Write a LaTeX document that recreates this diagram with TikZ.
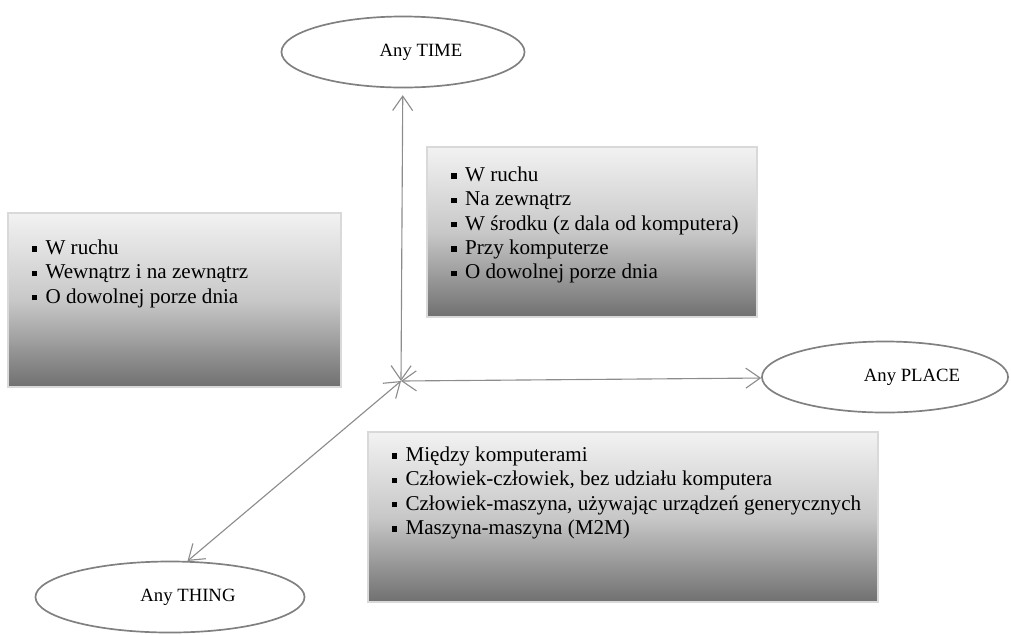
\documentclass[tikz,border=0pt]{standalone}
\usepackage{fontspec}
\setmainfont{Liberation Serif}
\usetikzlibrary{positioning,arrows.meta,shapes.geometric}
\definecolor{EllGray}{RGB}{128,128,128}
\definecolor{LineGray}{RGB}{140,140,140}
\definecolor{BoxEdge}{RGB}{217,217,217}
\definecolor{ShadeTop}{RGB}{242,242,242}
\definecolor{ShadeMid}{RGB}{200,200,200}
\definecolor{ShadeBot}{RGB}{112,112,112}
\newcommand{\sqbul}{\raisebox{0.13em}{\rule{0.25em}{0.25em}}\hspace{0.4em}}

\begin{document}
\begin{tikzpicture}[
    x=0.025cm, y=-0.025cm,
    node distance=0.25cm,
    anyell/.style={ellipse, draw=EllGray, line width=1.2pt, minimum width=#1,
        minimum height=1.775cm, font=\fontsize{13.3}{16}\selectfont, inner sep=2pt},
    infobox/.style={rectangle, draw=BoxEdge, line width=2pt, top color=ShadeTop,
        bottom color=ShadeBot, middle color=ShadeMid, inner sep=0pt},
    infotext/.style={align=left, inner sep=0pt, font=\fontsize{15}{17.3}\selectfont},
    link/.style={draw=LineGray, line width=0.8pt,
        {Straight Barb[length=0.36cm,width=0.5cm]}-{Straight Barb[length=0.36cm,width=0.5cm]}},
]
\useasboundingbox (0,0) rectangle (1011,634);

% the three ovals
\node[anyell=6.075cm] (time) at (403,52) {\hspace{0.9cm}Any TIME};
\node[anyell=6.15cm] (place) at (885,377) {\hspace{1.35cm}Any PLACE};
\node[anyell=6.725cm] (thing) at (170,597) {\hspace{0.9cm}Any THING};

% shaded boxes
\node[infobox, minimum width=8.325cm, minimum height=4.35cm] (leftbox) at (174.5,300) {};
\node[infobox, minimum width=8.25cm, minimum height=4.25cm] (midbox) at (592,232) {};
\node[infobox, minimum width=12.75cm, minimum height=4.25cm] (lowbox) at (623,517) {};

\node[infotext, below right=0.7cm and 0.625cm of leftbox.north west] (lefttxt)
    {\sqbul W ruchu\\ \sqbul Wewnątrz i na zewnątrz\\ \sqbul O dowolnej porze dnia};
\node[infotext, below right=0.525cm and 0.64cm of midbox.north west] (midtxt)
    {\sqbul W ruchu\\ \sqbul Na zewnątrz\\ \sqbul W środku (z dala od komputera)\\
     \sqbul Przy komputerze\\ \sqbul O dowolnej porze dnia};
\node[infotext, below right=0.4cm and 0.625cm of lowbox.north west] (lowtxt)
    {\sqbul Między komputerami\\ \sqbul Człowiek-człowiek, bez udziału komputera\\
     \sqbul Człowiek-maszyna, używając urządzeń generycznych\\ \sqbul Maszyna-maszyna (M2M)};

% arrows from the centre
\coordinate (hub) at (401,381);
\draw[link, shorten >=0.17cm] (hub) -- (time);
\draw[link] (hub) -- (place);
\draw[link] (hub) -- (thing.64);
\end{tikzpicture}
\end{document}
